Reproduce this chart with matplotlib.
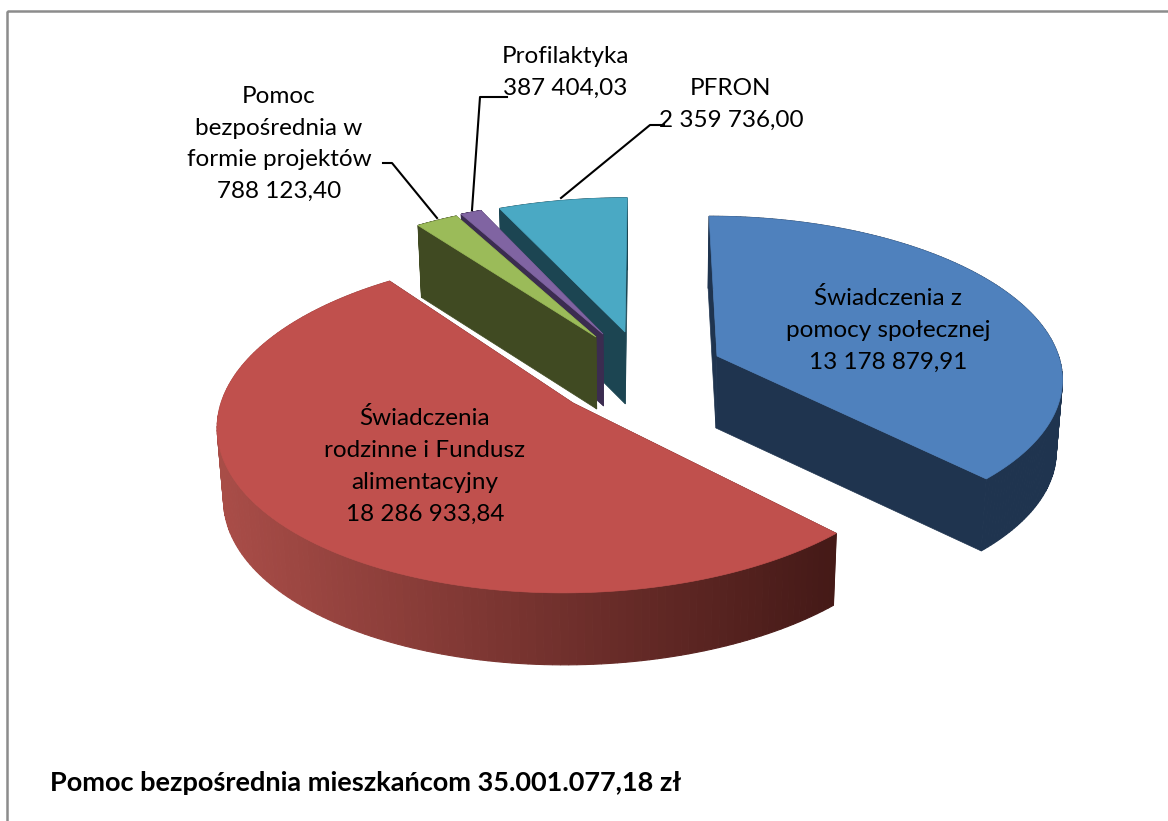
import numpy as np
import matplotlib
matplotlib.use('Agg')
import matplotlib.pyplot as plt
from matplotlib.patches import Polygon, Rectangle

plt.rcParams['font.family'] = ['Lato', 'DejaVu Sans']

# dane
nazwy = ['Świadczenia z\npomocy społecznej',
         'Świadczenia\nrodzinne i Fundusz\nalimentacyjny',
         'Pomoc\nbezpośrednia w\nformie projektów',
         'Profilaktyka',
         'PFRON']
wartosci = [13178879.91, 18286933.84, 788123.40, 387404.03, 2359736.00]
tytul = 'Pomoc bezpośrednia mieszkańcom 35.001.077,18 zł'

# wyglad
kolory = ['#4f81bd', '#c0504d', '#9bbb59', '#8064a2', '#4aa9c4']
boki = ['#1f344f', '#4e1d1b', '#404a22', '#3b2c50', '#1c4552']
apex_x = [717, 573, 596, 603, 625]
apex_y = [356, 403, 337, 334, 332]
skala_x = [0.99, 1.02, 0.98, 0.99, 1.0]
skala_y = [1.0, 1.06, 0.97, 0.96, 0.96]
etykiety_x = [888, 425, 279, 565, 731]
etykiety_y = [330, 466, 144, 72, 104]

RX, RY, P = 345, 157, 0.1235
VX = 645
GLEB = 72


def rzut(i, kat):
    # kat liczony od gory, zgodnie z zegarem
    dx, dy = np.sin(kat), np.cos(kat)
    s = 1 / (1 + P * dy)
    x = VX + (apex_x[i] - VX + RX * skala_x[i] * dx) * s
    y = apex_y[i] - RY * skala_y[i] * dy * s
    return x, y


def dol(x, y):
    return VX + (x - VX) * 0.985, y + GLEB


def mieszaj(a, b, t):
    return tuple(np.array(a) * (1 - t) + np.array(b) * t)


def kwota(v):
    return f'{v:,.2f}'.replace(',', ' ').replace('.', ',')


fig = plt.figure(figsize=(11.68, 8.21), dpi=100)
ax = fig.add_axes([0, 0, 1, 1])
ax.set_xlim(0, 1168)
ax.set_ylim(821, 0)
ax.axis('off')

ax.add_patch(Rectangle((7, 11), 1300, 1000, fill=False, ec='#8c8c8c', lw=1.8))

udzialy = np.array(wartosci) / sum(wartosci) * 2 * np.pi
konce = np.cumsum(udzialy)
poczatki = konce - udzialy

# od tylu do przodu
for i in [4, 3, 2, 0, 1]:
    katy = np.linspace(poczatki[i], konce[i], 160)
    x, y = rzut(i, katy)
    xd, yd = dol(x, y)
    ax0, ay0 = apex_x[i], apex_y[i]
    ax1, ay1 = dol(ax0, ay0)

    # sciany radialne
    for k in (0, -1):
        ax.add_patch(Polygon([(ax0, ay0), (x[k], y[k]), (xd[k], yd[k]), (ax1, ay1)],
                             fc=boki[i], ec=boki[i], lw=0.5, zorder=2))
    # sciana zewnetrzna z gradientem
    for k in range(len(katy) - 1):
        if i == 1:
            t = np.clip((x[k] - 225) / (835 - 225), 0, 1)
            c = mieszaj((0.66, 0.30, 0.28), (0.27, 0.10, 0.09), t)
        else:
            c = boki[i]
        ax.add_patch(Polygon([(x[k], y[k]), (x[k + 1], y[k + 1]),
                              (xd[k + 1], yd[k + 1]), (xd[k], yd[k])],
                             fc=c, ec=c, lw=0.8, zorder=2))
    # wierzch
    ax.add_patch(Polygon(np.vstack([[ax0, ay0], np.column_stack([x, y])]),
                         fc=kolory[i], ec=kolory[i], lw=0.5, zorder=2))

# linie odniesienia
linie = [([383, 392, 437], [163, 163, 218]),
         ([507, 480, 472], [97, 97, 210]),
         ([664, 650, 561], [125, 125, 198])]
for lx, ly in linie:
    ax.plot(lx, ly, color='black', lw=1.5, zorder=3)

for i in range(5):
    ax.text(etykiety_x[i], etykiety_y[i], nazwy[i] + '\n' + kwota(wartosci[i]),
            ha='center', va='center', fontsize=17.5, color='black',
            linespacing=1.63, zorder=4)

ax.text(50, 783, tytul, ha='left', va='center', fontsize=19.5,
        fontweight='bold', color='black')

fig.savefig('out.png', dpi=100)
